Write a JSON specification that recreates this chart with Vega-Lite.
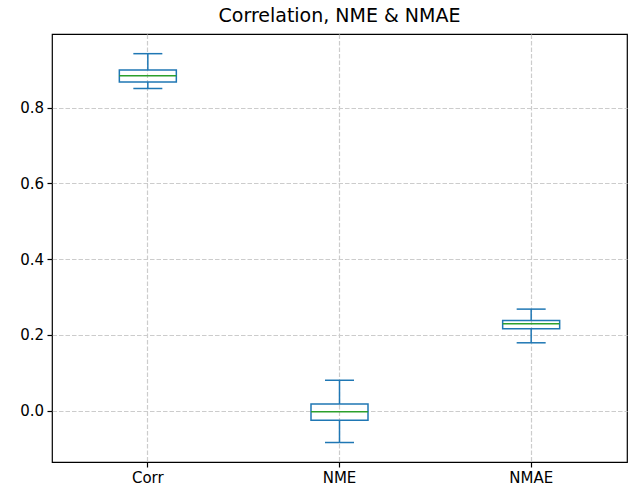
{
  "$schema": "https://vega.github.io/schema/vega-lite/v6.json",
  "autosize": "none",
  "width": 575,
  "height": 428,
  "padding": {"left": 52, "top": 34, "right": 6, "bottom": 29},
  "background": "white",
  "title": {"text": "Correlation, NME & NMAE", "font": "DejaVu Sans", "fontSize": 19, "fontWeight": "normal", "color": "black", "offset": 8},
  "config": {
    "view": {"stroke": "black", "strokeWidth": 1.2},
    "tick": {"opacity": 1},
    "axis": {"domain": false, "labelFont": "DejaVu Sans", "labelFontSize": 15, "labelColor": "black", "tickColor": "black", "tickSize": 5, "tickWidth": 1.2, "grid": true, "gridColor": "#cccccc", "gridDash": [4.5, 2], "gridWidth": 1.2, "title": null}
  },
  "data": {"values": [
    {"metric": "Corr", "min": 0.851, "q1": 0.868, "median": 0.885, "q3": 0.900, "max": 0.943},
    {"metric": "NME", "min": -0.0845, "q1": -0.026, "median": -0.0034, "q3": 0.017, "max": 0.080},
    {"metric": "NMAE", "min": 0.179, "q1": 0.216, "median": 0.229, "q3": 0.238, "max": 0.268}
  ]},
  "encoding": {
    "x": {"field": "metric", "type": "nominal", "sort": null, "scale": {"type": "band", "paddingInner": 0, "paddingOuter": 0}, "axis": {"labelAngle": 0, "bandPosition": 0.5, "labelPadding": 3.5}}
  },
  "layer": [
    {"mark": {"type": "rule", "color": "#1f77b4", "strokeWidth": 1.5},
     "encoding": {"y": {"field": "min", "type": "quantitative", "scale": {"domain": [-0.136, 0.995], "nice": false, "zero": false}, "axis": {"format": ".1f", "values": [0, 0.2, 0.4, 0.6, 0.8], "labelPadding": 3.5}}, "y2": {"field": "q1"}}},
    {"mark": {"type": "rule", "color": "#1f77b4", "strokeWidth": 1.5},
     "encoding": {"y": {"field": "q3", "type": "quantitative"}, "y2": {"field": "max"}}},
    {"mark": {"type": "tick", "color": "#1f77b4", "thickness": 1.5, "size": 29, "opacity": 1},
     "encoding": {"y": {"field": "min", "type": "quantitative"}}},
    {"mark": {"type": "tick", "color": "#1f77b4", "thickness": 1.5, "size": 29, "opacity": 1},
     "encoding": {"y": {"field": "max", "type": "quantitative"}}},
    {"mark": {"type": "bar", "fill": "white", "fillOpacity": 0, "stroke": "#1f77b4", "strokeWidth": 1.5, "width": 57},
     "encoding": {"y": {"field": "q1", "type": "quantitative"}, "y2": {"field": "q3"}}},
    {"mark": {"type": "tick", "color": "#2ca02c", "thickness": 1.5, "size": 57, "opacity": 1},
     "encoding": {"y": {"field": "median", "type": "quantitative"}}}
  ]
}
